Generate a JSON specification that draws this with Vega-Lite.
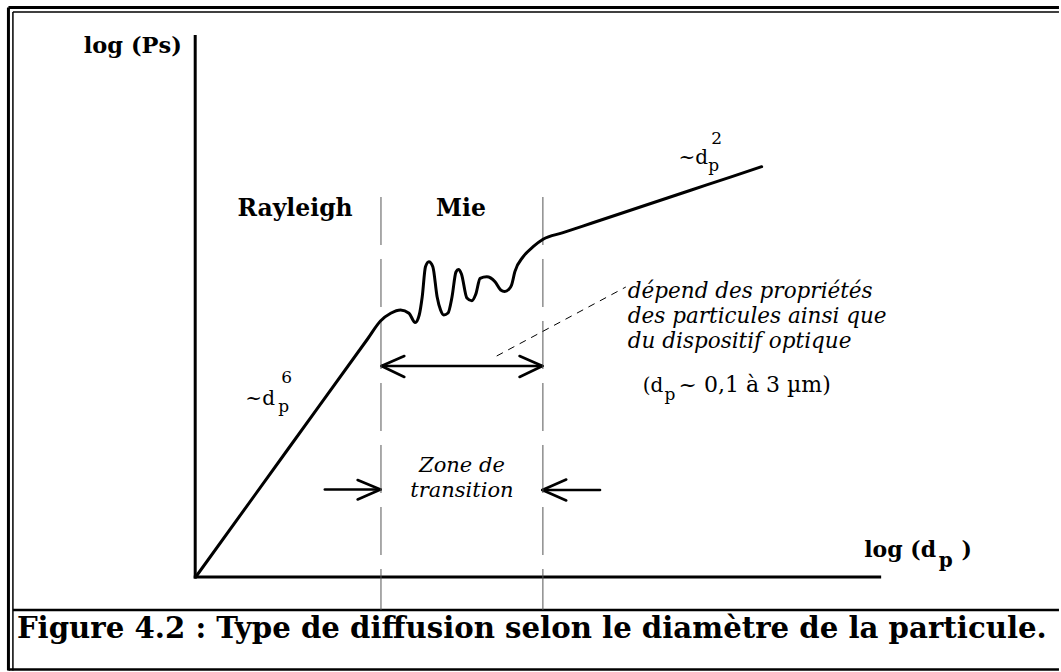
{
  "$schema": "https://vega.github.io/schema/vega-lite/v6.json",
  "width": 1061,
  "height": 672,
  "padding": 0,
  "autosize": {"type": "fit", "contains": "padding"},
  "background": "white",
  "config": {"view": {"stroke": null}},
  "datasets": {
    "segs": [
      {"u": -187.5, "v": 569.5, "u2": -187.5, "v2": -93.5, "k": "outer"},
      {"u": -187.5, "v": 569.5, "u2": 870, "v2": 569.5, "k": "outer"},
      {"u": -183, "v": 565, "u2": -183, "v2": -93.5, "k": "inner"},
      {"u": -183, "v": 565, "u2": 870, "v2": 565, "k": "inner"},
      {"u": -187.5, "v": -92.5, "u2": 870, "v2": -92.5, "k": "sep"},
      {"u": -183, "v": -33, "u2": 870, "v2": -33, "k": "sep"},
      {"u": 0.5, "v": 542, "u2": 0.5, "v2": -1.5, "k": "axis"},
      {"u": -1, "v": 0, "u2": 691, "v2": 0, "k": "axis"},
      {"u": 188, "v": 211, "u2": 350, "v2": 211, "k": "arrow"},
      {"u": 188, "v": 211, "u2": 211, "v2": 221, "k": "arrow"},
      {"u": 188, "v": 211, "u2": 211, "v2": 200, "k": "arrow"},
      {"u": 350, "v": 211, "u2": 327, "v2": 221, "k": "arrow"},
      {"u": 350, "v": 211, "u2": 327, "v2": 200, "k": "arrow"},
      {"u": 131, "v": 87.5, "u2": 187, "v2": 87.5, "k": "arrow"},
      {"u": 187, "v": 87.5, "u2": 164, "v2": 97, "k": "arrow"},
      {"u": 187, "v": 87.5, "u2": 164, "v2": 77.5, "k": "arrow"},
      {"u": 350, "v": 87, "u2": 408, "v2": 87, "k": "arrow"},
      {"u": 350, "v": 87, "u2": 374, "v2": 97.5, "k": "arrow"},
      {"u": 350, "v": 87, "u2": 374, "v2": 76.5, "k": "arrow"},
      {"u": 187.5, "v": 380, "u2": 187.5, "v2": -33, "k": "bound"},
      {"u": 350.5, "v": 380, "u2": 350.5, "v2": -33, "k": "bound"},
      {"u": 304, "v": 221, "u2": 434, "v2": 290, "k": "leader"}
    ],
    "curve": [
      {"u": 1, "v": 0},
      {"u": 94, "v": 128},
      {"u": 174, "v": 238},
      {"u": 187, "v": 256},
      {"u": 197.3, "v": 263.7},
      {"u": 207.3, "v": 267},
      {"u": 215.7, "v": 263.7},
      {"u": 222, "v": 254.5},
      {"u": 226, "v": 262},
      {"u": 229, "v": 280},
      {"u": 232.3, "v": 310.3},
      {"u": 235.7, "v": 315.3},
      {"u": 239.7, "v": 310.3},
      {"u": 244, "v": 280.3},
      {"u": 247.5, "v": 267},
      {"u": 250.7, "v": 262},
      {"u": 255, "v": 264},
      {"u": 259, "v": 280},
      {"u": 263, "v": 305},
      {"u": 265.5, "v": 307.5},
      {"u": 268.5, "v": 303},
      {"u": 274, "v": 279},
      {"u": 279, "v": 276.3},
      {"u": 283, "v": 283},
      {"u": 287.3, "v": 298.7},
      {"u": 294, "v": 300.3},
      {"u": 302.3, "v": 295.3},
      {"u": 308, "v": 287},
      {"u": 312, "v": 285.5},
      {"u": 316, "v": 287.5},
      {"u": 319, "v": 292},
      {"u": 322.3, "v": 305.3},
      {"u": 330.7, "v": 320.3},
      {"u": 340.7, "v": 330.3},
      {"u": 350.7, "v": 337.7},
      {"u": 370, "v": 344.1},
      {"u": 400, "v": 354},
      {"u": 450, "v": 370.5},
      {"u": 500, "v": 387},
      {"u": 540, "v": 400.2},
      {"u": 570.7, "v": 410.3}
    ],
    "labels": [
      {"u": -13, "v": 524, "t": "log (Ps)", "k": "boldR"},
      {"u": 674, "v": 20, "t": "log (d", "k": "boldL"},
      {"u": 749, "v": 10, "t": "p", "k": "boldSub"},
      {"u": 772, "v": 20, "t": ")", "k": "boldL"},
      {"u": 101, "v": 361, "t": "Rayleigh", "k": "boldC"},
      {"u": 268, "v": 361, "t": "Mie", "k": "boldC"},
      {"u": -179, "v": -61, "t": "Figure 4.2 : Type de diffusion selon le diamètre de la particule.", "k": "caption"},
      {"u": 51, "v": 172, "t": "~d", "k": "reg"},
      {"u": 84, "v": 165, "t": "p", "k": "small"},
      {"u": 87, "v": 194, "t": "6", "k": "small"},
      {"u": 487, "v": 413, "t": "~d", "k": "reg"},
      {"u": 517, "v": 406, "t": "p", "k": "small"},
      {"u": 520, "v": 433, "t": "2", "k": "small"},
      {"u": 451, "v": 185, "t": "(d", "k": "reg"},
      {"u": 473, "v": 177, "t": "p", "k": "small"},
      {"u": 487, "v": 185, "t": "~ 0,1 à 3 µm)", "k": "regw"},
      {"u": 436, "v": 279, "t": "dépend des propriétés", "k": "ital"},
      {"u": 436, "v": 254, "t": "des particules ainsi que", "k": "ital"},
      {"u": 436, "v": 229, "t": "du dispositif optique", "k": "ital"},
      {"u": 269, "v": 105, "t": "Zone de", "k": "italC"},
      {"u": 269, "v": 80, "t": "transition", "k": "italC"}
    ]
  },
  "encoding": {
    "x": {"field": "u", "type": "quantitative", "scale": {"domain": [-196, 865], "nice": false, "zero": false}, "axis": null},
    "y": {"field": "v", "type": "quantitative", "scale": {"domain": [-95, 577], "nice": false, "zero": false}, "axis": null}
  },
  "layer": [
    {"data": {"name": "segs"}, "transform": [{"filter": "datum.k === 'outer'"}], "mark": {"type": "rule", "strokeWidth": 3, "color": "black"}, "encoding": {"x2": {"field": "u2"}, "y2": {"field": "v2"}}},
    {"data": {"name": "segs"}, "transform": [{"filter": "datum.k === 'inner'"}], "mark": {"type": "rule", "strokeWidth": 1.5, "color": "black"}, "encoding": {"x2": {"field": "u2"}, "y2": {"field": "v2"}}},
    {"data": {"name": "segs"}, "transform": [{"filter": "datum.k === 'sep'"}], "mark": {"type": "rule", "strokeWidth": 2.5, "color": "black"}, "encoding": {"x2": {"field": "u2"}, "y2": {"field": "v2"}}},
    {"data": {"name": "segs"}, "transform": [{"filter": "datum.k === 'axis'"}], "mark": {"type": "rule", "strokeWidth": 3, "color": "black"}, "encoding": {"x2": {"field": "u2"}, "y2": {"field": "v2"}}},
    {"data": {"name": "segs"}, "transform": [{"filter": "datum.k === 'arrow'"}], "mark": {"type": "rule", "strokeWidth": 2.6, "color": "black", "strokeCap": "round"}, "encoding": {"x2": {"field": "u2"}, "y2": {"field": "v2"}}},
    {"data": {"name": "segs"}, "transform": [{"filter": "datum.k === 'bound'"}], "mark": {"type": "rule", "strokeWidth": 1, "color": "#555555", "strokeDash": [48, 14]}, "encoding": {"x2": {"field": "u2"}, "y2": {"field": "v2"}}},
    {"data": {"name": "segs"}, "transform": [{"filter": "datum.k === 'leader'"}], "mark": {"type": "rule", "strokeWidth": 1, "color": "black", "strokeDash": [7, 6]}, "encoding": {"x2": {"field": "u2"}, "y2": {"field": "v2"}}},
    {"data": {"name": "curve"}, "mark": {"type": "line", "interpolate": "monotone", "strokeWidth": 3, "color": "black", "strokeJoin": "round", "strokeCap": "round"}, "encoding": {}},
    {"data": {"name": "labels"}, "transform": [{"filter": "datum.k === 'boldR'"}], "mark": {"type": "text", "font": "DejaVu Serif", "fontWeight": "bold", "fontSize": 22.5, "align": "right", "baseline": "alphabetic", "color": "black"}, "encoding": {"text": {"field": "t"}}},
    {"data": {"name": "labels"}, "transform": [{"filter": "datum.k === 'boldL'"}], "mark": {"type": "text", "font": "DejaVu Serif", "fontWeight": "bold", "fontSize": 22, "align": "left", "baseline": "alphabetic", "color": "black"}, "encoding": {"text": {"field": "t"}}},
    {"data": {"name": "labels"}, "transform": [{"filter": "datum.k === 'boldSub'"}], "mark": {"type": "text", "font": "DejaVu Serif", "fontWeight": "bold", "fontSize": 20, "align": "left", "baseline": "alphabetic", "color": "black"}, "encoding": {"text": {"field": "t"}}},
    {"data": {"name": "labels"}, "transform": [{"filter": "datum.k === 'boldC'"}], "mark": {"type": "text", "font": "DejaVu Serif", "fontWeight": "bold", "fontSize": 23.5, "align": "center", "baseline": "alphabetic", "color": "black"}, "encoding": {"text": {"field": "t"}}},
    {"data": {"name": "labels"}, "transform": [{"filter": "datum.k === 'caption'"}], "mark": {"type": "text", "font": "DejaVu Serif", "fontWeight": "bold", "fontSize": 29.2, "align": "left", "baseline": "alphabetic", "color": "black"}, "encoding": {"text": {"field": "t"}}},
    {"data": {"name": "labels"}, "transform": [{"filter": "datum.k === 'reg'"}], "mark": {"type": "text", "font": "DejaVu Serif", "fontSize": 20, "align": "left", "baseline": "alphabetic", "color": "black"}, "encoding": {"text": {"field": "t"}}},
    {"data": {"name": "labels"}, "transform": [{"filter": "datum.k === 'regw'"}], "mark": {"type": "text", "font": "DejaVu Serif", "fontSize": 22, "align": "left", "baseline": "alphabetic", "color": "black"}, "encoding": {"text": {"field": "t"}}},
    {"data": {"name": "labels"}, "transform": [{"filter": "datum.k === 'small'"}], "mark": {"type": "text", "font": "DejaVu Serif", "fontSize": 17, "align": "left", "baseline": "alphabetic", "color": "black"}, "encoding": {"text": {"field": "t"}}},
    {"data": {"name": "labels"}, "transform": [{"filter": "datum.k === 'ital'"}], "mark": {"type": "text", "font": "DejaVu Serif", "fontStyle": "italic", "fontSize": 21.5, "align": "left", "baseline": "alphabetic", "color": "black"}, "encoding": {"text": {"field": "t"}}},
    {"data": {"name": "labels"}, "transform": [{"filter": "datum.k === 'italC'"}], "mark": {"type": "text", "font": "DejaVu Serif", "fontStyle": "italic", "fontSize": 21, "align": "center", "baseline": "alphabetic", "color": "black"}, "encoding": {"text": {"field": "t"}}}
  ]
}
